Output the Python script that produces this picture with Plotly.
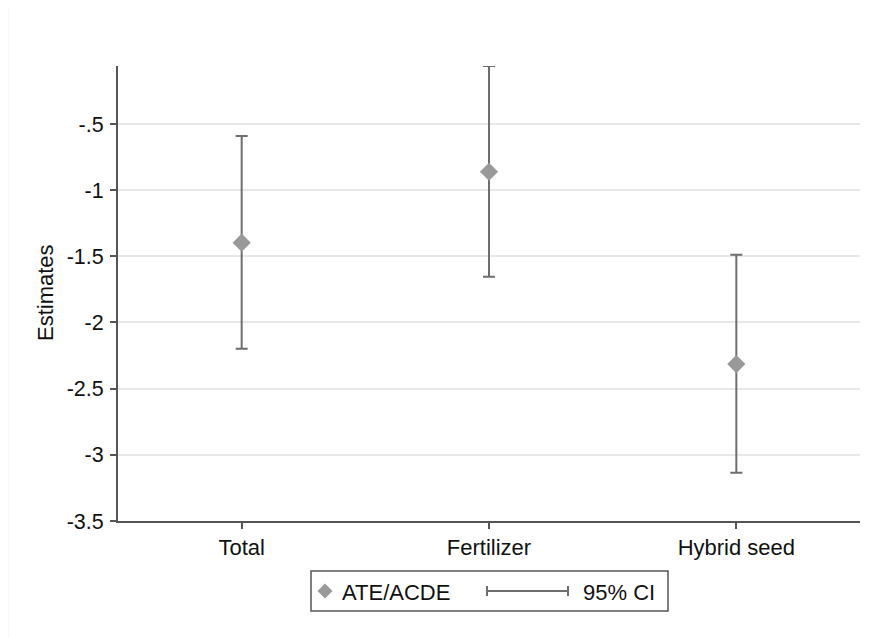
import plotly.graph_objects as go

categories = ["Total", "Fertilizer", "Hybrid seed"]
estimates = [-1.397, -0.861, -2.314]
ci_upper = [-0.591, -0.062, -1.488]
ci_lower = [-2.198, -1.654, -3.136]
ytick_vals = [-3.5, -3, -2.5, -2, -1.5, -1, -0.5]
ytick_text = ["-3.5", "-3", "-2.5", "-2", "-1.5", "-1", "-.5"]

OFF = 8  # page body offset
W, H = 870, 638
# plot area in page pixels: x 118..860, y 66..521
L, R, T, B = 118 - OFF, W - (860 - OFF), 66 - OFF, H - (521 - OFF)
PW, PH = W - L - R, H - T - B

def px(x):
    return (x - OFF - L) / PW

def py(y):
    return (H - B - (y - OFF)) / PH

FONT = "Liberation Sans, Arial, sans-serif"
FS = 22

err_plus = [u - e for u, e in zip(ci_upper, estimates)]
err_minus = [e - l for e, l in zip(estimates, ci_lower)]

fig = go.Figure()
fig.add_trace(go.Scatter(
    x=categories, y=estimates, mode="markers",
    marker=dict(symbol="diamond", size=14, color="#999999", line=dict(width=0)),
    error_y=dict(type="data", symmetric=False, array=err_plus, arrayminus=err_minus,
                 color="#6e6e6e", thickness=2, width=6),
    showlegend=False,
))

shapes = []
annotations = []
# faint outer frame
shapes.append(dict(type="rect", xref="paper", yref="paper",
                   x0=px(8), x1=px(890), y0=py(660), y1=py(5),
                   line=dict(color="#f2f2f2", width=1), layer="below"))
# legend box
shapes.append(dict(type="rect", xref="paper", yref="paper",
                   x0=px(311), x1=px(668), y0=py(611), y1=py(571),
                   line=dict(color="#555555", width=1.5), fillcolor="white"))
# legend diamond
d = 7.5
shapes.append(dict(type="path", xref="paper", yref="paper",
                   path=f"M {px(325)},{py(591-d)} L {px(325+d)},{py(591)} L {px(325)},{py(591+d)} L {px(325-d)},{py(591)} Z",
                   line=dict(width=0), fillcolor="#999999"))
# legend CI symbol
shapes.append(dict(type="line", xref="paper", yref="paper",
                   x0=px(487), x1=px(568), y0=py(591), y1=py(591),
                   line=dict(color="#6e6e6e", width=2)))
for xc in (487, 568):
    shapes.append(dict(type="line", xref="paper", yref="paper",
                       x0=px(xc), x1=px(xc), y0=py(586), y1=py(596),
                       line=dict(color="#6e6e6e", width=2)))
annotations.append(dict(text="ATE/ACDE", xref="paper", yref="paper",
                        x=px(340), y=py(592), xanchor="left", yanchor="middle",
                        showarrow=False, font=dict(family=FONT, size=FS, color="#111111")))
annotations.append(dict(text="95% CI", xref="paper", yref="paper",
                        x=px(581), y=py(592), xanchor="left", yanchor="middle",
                        showarrow=False, font=dict(family=FONT, size=FS, color="#111111")))
annotations.append(dict(text="Estimates", xref="paper", yref="paper",
                        x=px(45), y=py(293), xanchor="center", yanchor="middle",
                        textangle=-90, showarrow=False,
                        font=dict(family=FONT, size=FS, color="#111111")))

fig.update_layout(
    width=W, height=H,
    margin=dict(l=L, r=R, t=T, b=B, autoexpand=False),
    paper_bgcolor="white", plot_bgcolor="white",
    font=dict(family=FONT, size=FS, color="#111111"),
    shapes=shapes, annotations=annotations,
    xaxis=dict(
        type="category", categoryorder="array", categoryarray=categories,
        range=[-0.5, 2.5], showgrid=False, zeroline=False,
        showline=True, linecolor="#555555", linewidth=2,
        ticks="outside", ticklen=6, tickwidth=1.5, tickcolor="#555555",
        tickfont=dict(family=FONT, size=FS, color="#111111"),
        fixedrange=True,
    ),
    yaxis=dict(
        range=[-3.5, -0.062], tickvals=ytick_vals, ticktext=ytick_text,
        showgrid=True, gridcolor="#e8e8e8", gridwidth=2, zeroline=False,
        showline=True, linecolor="#555555", linewidth=2,
        ticks="outside", ticklen=6, tickwidth=1.5, tickcolor="#555555",
        ticklabelstandoff=2,
        tickfont=dict(family=FONT, size=21.5, color="#111111"),
        fixedrange=True,
    ),
)

fig.write_html("out.html")
